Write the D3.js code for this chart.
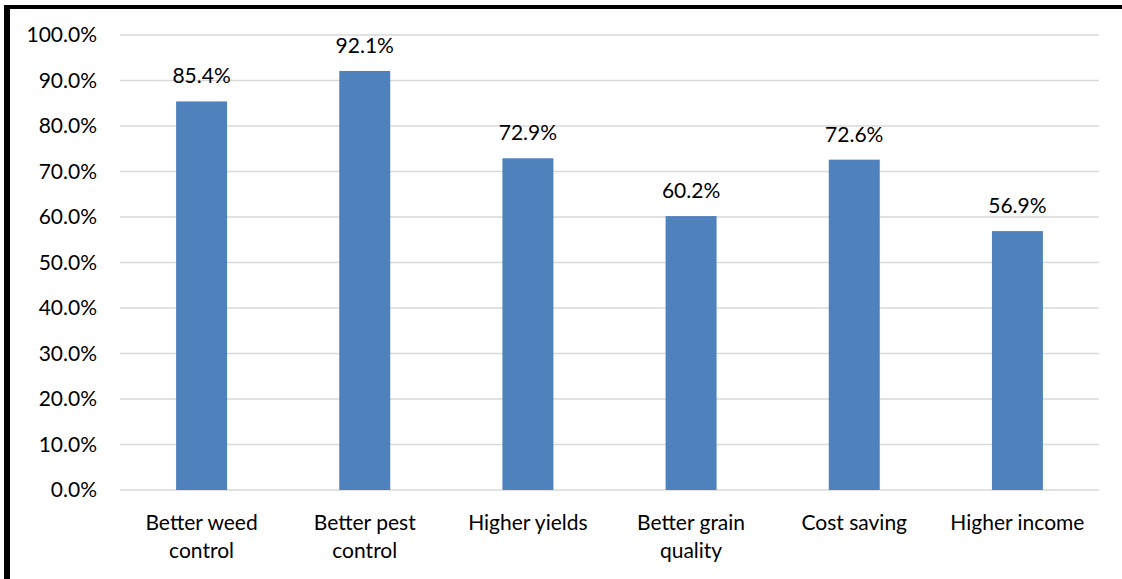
<!DOCTYPE html>
<html>
<head>
<meta charset="utf-8">
<script src="https://cdn.jsdelivr.net/npm/d3@7"></script>
<style>
  html, body { margin: 0; padding: 0; background: #fff; }
  svg { display: block; }
  text { font-family: Lato, "Open Sans", sans-serif; fill: #000; }
</style>
</head>
<body>
<svg id="chart" width="1122" height="579"></svg>
<script>
const categories = [["Better weed", "control"], ["Better pest", "control"], ["Higher yields"], ["Better grain", "quality"], ["Cost saving"], ["Higher income"]];
const values = [85.4, 92.1, 72.9, 60.2, 72.6, 56.9];
const yTicks = [0, 10, 20, 30, 40, 50, 60, 70, 80, 90, 100];

const svg = d3.select("#chart");
const W = 1122, H = 579;
const plot = { left: 120, right: 1099, top: 35, bottom: 490 };
const FS = 21;

// outer frame: heavy rule on the left and top edges only
svg.append("rect").attr("x", 4).attr("y", 5).attr("width", 6).attr("height", H - 5).attr("fill", "#000");
svg.append("rect").attr("x", 4).attr("y", 5).attr("width", W - 4).attr("height", 4).attr("fill", "#000");

const keys = categories.map((c, i) => i);
const x = d3.scaleBand().domain(keys).range([plot.left, plot.right]).paddingInner(0.6875).paddingOuter(0.34375);
const y = d3.scaleLinear().domain([0, 100]).range([plot.bottom, plot.top]);

// horizontal gridlines
svg.append("g").selectAll("line").data(yTicks).join("line")
  .attr("x1", plot.left).attr("x2", plot.right)
  .attr("y1", d => y(d)).attr("y2", d => y(d))
  .attr("stroke", "#d9d9d9").attr("stroke-width", 1.3);

// y axis labels
const yAxis = d3.axisLeft(y).tickValues(yTicks).tickFormat(d => d.toFixed(1) + "%").tickSize(0).tickPadding(0);
const yg = svg.append("g").attr("transform", `translate(97,0)`).call(yAxis);
yg.select(".domain").remove();
yg.selectAll("text").attr("font-size", FS).attr("font-family", "Lato, sans-serif").attr("fill", "#000");

// bars
svg.append("g").selectAll("rect").data(values).join("rect")
  .attr("x", (d, i) => x(i)).attr("width", x.bandwidth())
  .attr("y", d => y(d)).attr("height", d => y(0) - y(d))
  .attr("fill", "#4f81bd");

// value labels
svg.append("g").selectAll("text").data(values).join("text")
  .attr("x", (d, i) => x(i) + x.bandwidth() / 2)
  .attr("y", d => y(d) - 18)
  .attr("text-anchor", "middle").attr("font-size", FS)
  .text(d => d.toFixed(1) + "%");

// category labels (wrapped to two lines where needed)
const xg = svg.append("g");
categories.forEach((lines, i) => {
  const cx = x(i) + x.bandwidth() / 2;
  const t = xg.append("text")
    .attr("x", cx).attr("y", 530)
    .attr("text-anchor", "middle").attr("font-size", FS);
  lines.forEach((ln, j) => t.append("tspan").attr("x", cx).attr("dy", j === 0 ? 0 : 28).text(ln));
});
</script>
</body>
</html>
